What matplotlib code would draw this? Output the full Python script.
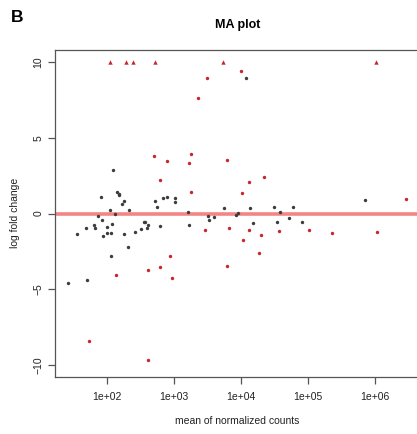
"""MA plot (panel B): mean of normalized counts vs log fold change."""

import matplotlib
matplotlib.use("Agg")
import matplotlib.pyplot as plt
import numpy as np

plt.rcParams["font.family"] = ["Liberation Sans", "DejaVu Sans"]

# не значимые гены (серые)
ns_mean = [26.5, 35.6, 49.0, 50.1, 64.4, 66.2, 72.0, 82.8, 80.6, 87.8,
           100, 99, 109.7, 118.3, 116.3, 116.3, 124.6, 129.4, 140.6, 151.1,
           149.6, 168.7, 179.5, 180.7, 203.7, 213, 265.2, 320.8, 353, 374,
           394, 412, 512, 552, 608, 671, 792, 1035, 1035, 1629,
           1640, 3214, 3327, 3942, 5521, 8337, 8870, 11750, 13620, 14790,
           31100, 33890, 38210, 51880, 58480, 80540, 701500]
ns_lfc = [-4.60, -1.34, -0.99, -4.42, -0.74, -0.94, -0.19, -0.42, 1.08, -1.47,
          -0.86, -1.26, 0.25, -0.70, -1.27, -2.83, 2.86, -0.03, 1.44, 1.30,
          1.19, 0.63, 0.85, -1.36, -2.20, 0.22, -1.21, -1.01, -0.58, -0.58,
          -0.94, -0.73, 0.83, 0.46, -0.81, 1.01, 1.06, 1.05, 0.73, 0.07,
          -0.74, -0.18, -0.46, -0.22, 0.35, -0.13, 0.05, 8.97, 0.35, -0.64,
          0.45, -0.53, 0.13, -0.31, 0.42, -0.58, 0.88]

# значимые гены (красные)
sig_mean = [54.6, 133.9, 402, 401, 497, 612, 626, 792, 869, 940,
            1663, 1782, 1762, 2233, 2851, 3046, 6051, 6223, 6596, 9860,
            10140, 10790, 13150, 13150, 18240, 19540, 21830, 36900, 103500, 228000,
            1050000, 2870000]
sig_lfc = [-8.43, -4.03, -3.72, -9.67, 3.81, 2.22, -3.54, 3.46, -2.83, -4.29,
           3.31, 3.91, 1.39, 7.64, -1.11, 8.97, 3.52, -3.44, -0.95, 9.39,
           1.34, -1.76, 2.05, -1.08, -2.63, -1.44, 2.43, -1.18, -1.07, -1.30,
           -1.19, 0.99]

# значимые, вышедшие за ylim (рисуются треугольниками на границе)
out_mean = [109.7, 188.4, 244.5, 515, 5272, 1023000]
lfc_cap = 10

RED = "#c8262b"
GRAY = "#3c3c3c"
AXIS = "#555555"
TEXT = "#222222"

W, H = 417, 434
fig = plt.figure(figsize=(W / 100, H / 100), dpi=100)
ax = fig.add_axes([55 / W, 57 / H, 364.5 / W, 327 / H])

ax.axhline(0, color="#f58585", lw=2.6, zorder=1)
ax.scatter(ns_mean, ns_lfc, s=6, color=GRAY, lw=0, zorder=2)
ax.scatter(sig_mean, sig_lfc, s=6, color=RED, lw=0, zorder=3)
ax.scatter(out_mean, [lfc_cap] * len(out_mean), s=10, marker="^",
           color=RED, lw=0, zorder=3)

ax.set_xscale("log")
ax.set_xlim(10 ** 1.223, 10 ** 6.66)
ax.set_ylim(-10.8, 10.8)
ax.set_xticks([1e2, 1e3, 1e4, 1e5, 1e6])
ax.set_xticklabels(["1e+02", "1e+03", "1e+04", "1e+05", "1e+06"])
ax.xaxis.set_minor_locator(matplotlib.ticker.NullLocator())
ax.set_yticks([-10, -5, 0, 5, 10])
ax.set_yticklabels(["\u221210", "\u22125", "0", "5", "10"])

for s in ax.spines.values():
    s.set_color(AXIS)
    s.set_linewidth(0.9)
ax.tick_params(length=5, width=0.9, color=AXIS, labelsize=7.5,
               labelcolor=TEXT)
ax.tick_params(axis="x", pad=6)
ax.tick_params(axis="y", pad=3.5, labelrotation=90)
for lab in ax.get_yticklabels():
    lab.set_va("center")

fig.text(237.5 / W, 1 - 25 / H, "MA plot", ha="center", va="center",
         fontsize=9, fontweight="bold")
fig.text(237.5 / W, 1 - 421.5 / H, "mean of normalized counts",
         ha="center", va="center", fontsize=7.5, color=TEXT)
fig.text(15 / W, 1 - 213 / H, "log fold change", ha="center", va="center",
         rotation=90, fontsize=7.5, color=TEXT)
fig.text(17 / W, 1 - 17 / H, "B", ha="center", va="center",
         fontsize=12.5, fontweight="bold")

fig.savefig("out.png", dpi=100, facecolor="white")
